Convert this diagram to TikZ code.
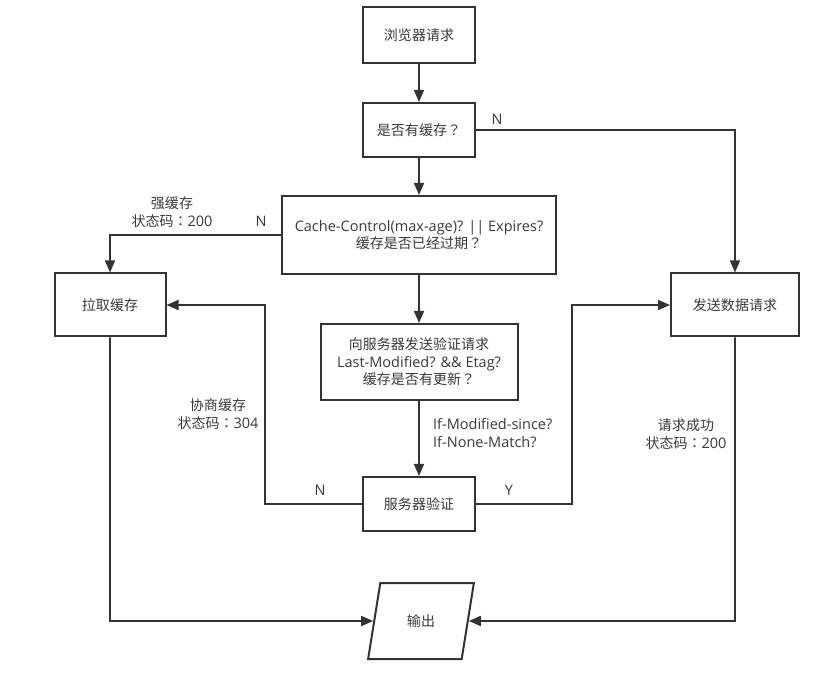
\documentclass[tikz,border=0pt]{standalone}
\usepackage{fontspec}
\setmainfont{Open Sans}
\newfontfamily\cjk[Scale=0.966]{Noto Sans CJK SC}
\newfontfamily\jpf[Scale=0.966]{Noto Sans CJK JP}
\newcommand\myqm{{\jpf ？}}
\newcommand\mycolon{{\jpf ：}}
\usetikzlibrary{arrows.meta,shapes.geometric}
\definecolor{ln}{HTML}{333333}
\definecolor{tx}{HTML}{3A3A3A}
\tikzset{
  box/.style={draw=ln,line width=2pt,fill=white,rectangle,inner sep=0pt,align=center,text=tx,font=\fontsize{14.5}{17.5}\selectfont},
  conn/.style={draw=ln,line width=1.6pt,-{Triangle[length=12pt,width=10pt]}},
  lab/.style={text=tx,font=\fontsize{14.5}{17.5}\selectfont,align=center,inner sep=0pt}
}
\begin{document}
\begin{tikzpicture}[x=1pt,y=-1pt]
\useasboundingbox (0,0) rectangle (836,684);
\fill[white] (0,0) rectangle (836,684);
\node[box,minimum width=112,minimum height=56] (b1) at (419,35) {\cjk 浏览器请求};
\node[box,minimum width=112,minimum height=54] (b2) at (419,130) {{\cjk 是否有缓存}\myqm};
\node[box,minimum width=274,minimum height=78] (b3) at (419,235) {Cache-Control(max-age)? || Expires?\\{\cjk 缓存是否已经过期}\myqm};
\node[box,minimum width=111,minimum height=63] (b4) at (110,305) {\cjk 拉取缓存};
\node[box,minimum width=128,minimum height=63] (b5) at (735,305) {\cjk 发送数据请求};
\node[box,minimum width=197,minimum height=76] (b6) at (419,362) {{\cjk 向服务器发送验证请求}\\Last-Modified? \&\& Etag?\\{\cjk 缓存是否有更新}\myqm};
\node[box,minimum width=112,minimum height=54] (b7) at (419,504) {\cjk 服务器验证};
\node[box,shape=trapezium,trapezium left angle=72,trapezium right angle=108,trapezium stretches=true,minimum width=106,minimum height=76] (out) at (421,621) {\cjk 输出};

\coordinate (c1) at (735,130);
\coordinate (c2) at (110,235);
\coordinate (c3) at (265,504);
\coordinate (c4) at (265,305);
\coordinate (c5) at (572,504);
\coordinate (c6) at (572,305);
\coordinate (c7) at (110,621);
\coordinate (c8) at (735,621);

\draw[conn] (b1) -- (b2);
\draw[conn] (b2) -- (b3);
\draw[conn] (b3) -- (b6);
\draw[conn] (b6) -- (b7);
\draw[conn] (b2.east) -- (c1) -- (b5.north);
\draw[conn] (b3.west) -- (c2) -- (b4.north);
\draw[conn] (b7.west) -- (c3) -- (c4) -- (b4.east);
\draw[conn] (b7.east) -- (c5) -- (c6) -- (b5.west);
\draw[conn] (b4.south) -- (c7) -- (out.west);
\draw[conn] (b5.south) -- (c8) -- (out.east);

\node[lab] (n1) at (497,119) {N};
\node[lab] (n2) at (261,221) {N};
\node[lab] (n3) at (320,490) {N};
\node[lab] (y1) at (509,490) {Y};
\node[lab] (l1) at (172,212) {{\cjk 强缓存}\\{\cjk 状态码}\mycolon 200};
\node[lab] (l2) at (218,414) {{\cjk 协商缓存}\\{\cjk 状态码}\mycolon 304};
\node[lab] (l3) at (686,434) {{\cjk 请求成功}\\{\cjk 状态码}\mycolon 200};
\node[lab,align=left,anchor=west] (l4) at (433,433) {If-Modified-since?\\If-None-Match?};
\end{tikzpicture}
\end{document}
